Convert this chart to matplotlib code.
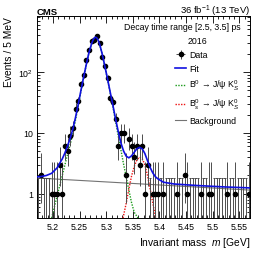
import numpy as np
import matplotlib.pyplot as plt
from matplotlib.ticker import MultipleLocator, LogLocator, NullFormatter, FixedLocator, FixedFormatter

plt.rcParams['font.family'] = ['Liberation Sans', 'DejaVu Sans']
plt.rcParams['mathtext.fontset'] = 'custom'
plt.rcParams['mathtext.rm'] = 'Liberation Sans'
plt.rcParams['mathtext.it'] = 'Liberation Sans:italic'

# binned data, 5 MeV bins from 5.17 to 5.57 GeV
bin_lo = 5.17
bin_w = 0.005
counts = [0, 2, 0, 0, 0, 1, 1, 1, 3, 1,
          6, 5, 9, 12, 25, 33, 64, 89, 159, 232,
          318, 335, 385, 299, 174, 125, 80, 38, 32, 17,
          6, 10, 10, 2, 8, 6, 4, 6, 3, 6,
          1, 3, 0, 1, 1, 1, 0, 1, 0, 0,
          0, 0, 1, 0, 0, 2, 1, 0, 0, 0,
          0, 1, 0, 0, 1, 1, 0, 0, 0, 0,
          0, 1, 0, 0, 1, 0, 0, 0, 0, 1]

# Garwood 68% intervals for small counts
garwood_lo = [0, 0.173, 0.708, 1.367, 2.086, 2.840, 3.620, 4.419, 5.232, 6.057, 6.891]
garwood_hi = [1.841, 3.300, 4.638, 5.918, 7.163, 8.382, 9.584, 10.77, 11.95, 13.11, 14.27]

# total fit curve
fit_m = [5.17, 5.1775, 5.1875, 5.1975, 5.2075, 5.2175, 5.2225, 5.2275, 5.2325, 5.2375,
         5.2425, 5.2475, 5.2525, 5.2575, 5.2625, 5.2675, 5.2725, 5.275, 5.2775, 5.28,
         5.2825, 5.285, 5.2875, 5.2925, 5.2975, 5.3025, 5.3075, 5.3125, 5.3175, 5.3225,
         5.3275, 5.3325, 5.3375, 5.3425, 5.3475, 5.3525, 5.3575, 5.3625, 5.3675, 5.3725,
         5.3775, 5.3825, 5.3875, 5.3925, 5.3975, 5.4075, 5.4275, 5.47, 5.52, 5.57]
fit_v = [1.9, 1.92, 2.0, 2.17, 2.65, 3.75, 4.7, 6.2, 8.2, 11.7,
         18.2, 29.7, 49.7, 82, 132, 207, 292, 332, 362, 374,
         362, 332, 290, 197, 124, 77, 46.6, 28.6, 17.1, 10.6,
         6.9, 5.06, 4.15, 3.9, 4.2, 4.8, 5.5, 5.8, 5.5, 4.6,
         3.5, 2.7, 2.2, 1.9, 1.75, 1.55, 1.45, 1.37, 1.3, 1.25]

# B0 -> J/psi K0S component
b0_m = [5.1975, 5.2025, 5.2075, 5.2125, 5.2175, 5.2225, 5.2275, 5.2325, 5.2375, 5.2425,
        5.2475, 5.2525, 5.2575, 5.2625, 5.2675, 5.2725, 5.275, 5.2775, 5.28, 5.2825,
        5.285, 5.2875, 5.2925, 5.2975, 5.3025, 5.3075, 5.3125, 5.3175, 5.3225, 5.3275,
        5.3325, 5.3375, 5.3425, 5.3475, 5.3525, 5.3595]
b0_v = [0.4, 0.6, 0.9, 1.35, 2.0, 3.0, 4.5, 6.5, 10, 16.5,
        28, 48, 80, 130, 205, 290, 330, 360, 372, 360,
        330, 288, 195, 122, 75, 45, 27, 15.5, 9, 5.3,
        3.1, 1.9, 1.15, 0.72, 0.5, 0.4]

# Bs -> J/psi K0S component
bs_m = [5.3315, 5.3375, 5.3425, 5.3475, 5.3525, 5.3575, 5.3625, 5.3675, 5.3725, 5.3775,
        5.3825, 5.3875, 5.3925, 5.3975]
bs_v = [0.4, 0.7, 1.2, 1.95, 2.8, 3.6, 4.0, 3.8, 3.0, 2.0,
        1.2, 0.7, 0.42, 0.3]

# background
bkg_m = [5.17, 5.57]
bkg_v = [1.82, 1.15]

ymin, ymax = 0.4, 830

fig = plt.figure(figsize=(2.66, 2.55), dpi=100)
ax = fig.add_axes([0.139, 0.141, 0.801, 0.792])

counts = np.array(counts)
centers = bin_lo + bin_w * (np.arange(len(counts)) + 0.5)
lo = np.array([garwood_lo[n] if n <= 10 else n + 0.5 - np.sqrt(n + 0.25) for n in counts])
hi = np.array([garwood_hi[n] if n <= 10 else n + 0.5 + np.sqrt(n + 0.25) for n in counts])

nz = counts > 0
ebar_col = '0.3'
data_h = ax.errorbar(centers[nz], counts[nz],
                     yerr=[counts[nz] - lo[nz], hi[nz] - counts[nz]],
                     xerr=bin_w / 2, fmt='o', color='black', ms=3.0,
                     ecolor=ebar_col, elinewidth=0.7, capsize=0, zorder=5)
# empty bins: only the upper error
z = ~nz
ax.vlines(centers[z], ymin, hi[z], color=ebar_col, lw=0.7, zorder=4)
ax.hlines(hi[z], centers[z] - bin_w / 2, centers[z] + bin_w / 2, color=ebar_col, lw=0.7, zorder=4)

bkg_h, = ax.plot(bkg_m, bkg_v, color='0.45', lw=0.8, zorder=2)
b0_h, = ax.plot(b0_m, b0_v, color='#1a9a1a', lw=1.0, ls=(0, (1, 1)), zorder=3)
bs_h, = ax.plot(bs_m, bs_v, color='#ee1111', lw=1.0, ls=(0, (1, 1)), zorder=3)
fit_h, = ax.plot(fit_m, fit_v, color='#1010e0', lw=1.2, zorder=6)

ax.set_yscale('log')
ax.set_xlim(5.17, 5.57)
ax.set_ylim(ymin, ymax)

ax.xaxis.set_minor_locator(MultipleLocator(0.01))
ax.set_xticks([5.2, 5.25, 5.3, 5.35, 5.4, 5.45, 5.5, 5.55])
ax.set_xticklabels(['5.2', '5.25', '5.3', '5.35', '5.4', '5.45', '5.5', '5.55'])
ax.yaxis.set_major_locator(FixedLocator([1, 10, 100]))
ax.yaxis.set_major_formatter(FixedFormatter(['1', '10', '10$^2$']))
ax.yaxis.set_minor_locator(LogLocator(base=10, subs=np.arange(2, 10)))
ax.yaxis.set_minor_formatter(NullFormatter())
ax.tick_params(which='both', direction='in', top=True, right=True, labelsize=6.3, width=0.6, pad=3)
ax.tick_params(which='major', length=5)
ax.tick_params(which='minor', length=2.5)
for s in ax.spines.values():
    s.set_linewidth(0.7)

ax.set_xlabel('Invariant mass  $m$ [GeV]', fontsize=7.4, loc='right', labelpad=3)
ax.set_ylabel('Events / 5 MeV', fontsize=7.4, loc='top', labelpad=3)

fig.text(0.139, 0.943, 'CMS', fontsize=6.8, fontweight='bold', ha='left', va='baseline')
fig.text(0.940, 0.943, '36 fb$^{-1}$ (13 TeV)', fontsize=6.8, ha='right', va='baseline')

ax.text(0.681, 0.946, 'Decay time range [2.5, 3.5] ps', transform=ax.transAxes,
        fontsize=6.3, ha='center', va='center')
ax.text(0.751, 0.878, '2016', transform=ax.transAxes, fontsize=6.3, ha='center', va='center')

ax.legend([data_h, fit_h, b0_h, bs_h, bkg_h],
          ['Data', 'Fit', 'B$^0$ → J/ψ K$^0_S$',
           'B$^0_s$ → J/ψ K$^0_S$', 'Background'],
          loc='upper left', bbox_to_anchor=(0.648, 0.83), frameon=False,
          fontsize=6.3, handlelength=1.3, handletextpad=0.3, labelspacing=0.55,
          borderpad=0, borderaxespad=0)

fig.savefig('out.png', dpi=100)
